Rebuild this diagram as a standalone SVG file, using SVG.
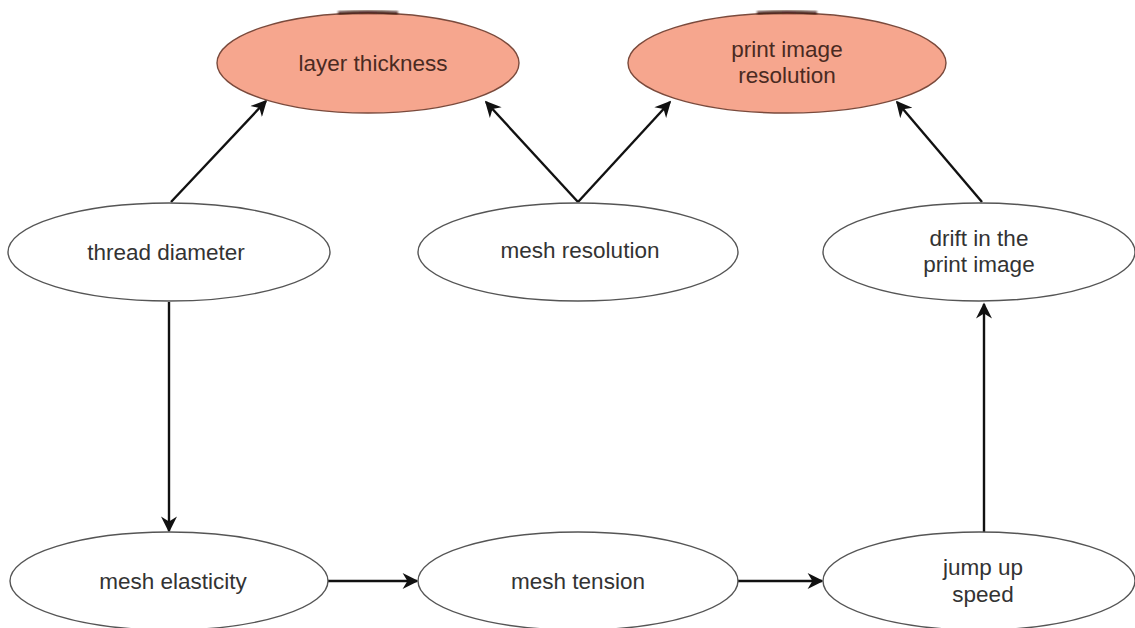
<svg xmlns="http://www.w3.org/2000/svg" width="1135" height="628" viewBox="0 0 1135 628">
  <defs>
    <marker id="arrow" viewBox="0 0 10 10" refX="9" refY="5" markerWidth="18" markerHeight="16" markerUnits="userSpaceOnUse" orient="auto">
      <path d="M0,0 L10,5 L0,10 L3,5 Z" fill="#111"/>
    </marker>
    <filter id="soft" x="-20%" y="-200%" width="140%" height="500%">
      <feGaussianBlur stdDeviation="1.2"/>
    </filter>
  </defs>
  <style>
    .node { fill: #ffffff; stroke: #555555; stroke-width: 1.4; }
    .hot { fill: #F6A68E; stroke: #7a4a3c; stroke-width: 1.4; }
    .label { font-family: "Liberation Sans", Arial, sans-serif; font-size: 22.5px; fill: #333333; text-anchor: middle; }
    .hot-label { fill: #4a2a22; }
    .edge { fill: none; stroke: #111111; stroke-width: 2.4; marker-end: url(#arrow); }
    .rim { fill: none; stroke: #3a1408; stroke-width: 3.5; opacity: 0.85; filter: url(#soft); }
  </style>
  <rect width="1135" height="628" fill="#ffffff"/>

  <!-- connectors -->
  <g id="connectors">
    <path class="edge" d="M171,202 L266,101"/>
    <path class="edge" d="M578,202 L486,102"/>
    <path class="edge" d="M578,202 L670,102"/>
    <path class="edge" d="M982,202 L897,102"/>
    <path class="edge" d="M169,302 L169,531"/>
    <path class="edge" d="M328,581 L417,581"/>
    <path class="edge" d="M737,581 L822,581"/>
    <path class="edge" d="M984,532 L984,304"/>
  </g>

  <g id="layer-thickness">
    <ellipse class="hot" cx="368" cy="63" rx="151" ry="50"/>
    <path class="rim" d="M338,13 Q368,11 398,13"/>
    <text class="label hot-label" x="373" y="71">layer thickness</text>
  </g>

  <g id="print-image-resolution">
    <ellipse class="hot" cx="787" cy="63" rx="159" ry="50"/>
    <path class="rim" d="M757,13 Q787,11 817,13"/>
    <text class="label hot-label" x="787" y="57">print image</text>
    <text class="label hot-label" x="787" y="83">resolution</text>
  </g>

  <g id="thread-diameter">
    <ellipse class="node" cx="169" cy="252" rx="161" ry="49"/>
    <text class="label" x="166" y="260">thread diameter</text>
  </g>

  <g id="mesh-resolution">
    <ellipse class="node" cx="578" cy="252" rx="160" ry="49"/>
    <text class="label" x="580" y="258">mesh resolution</text>
  </g>

  <g id="drift-in-the-print-image">
    <ellipse class="node" cx="979" cy="252" rx="156" ry="49"/>
    <text class="label" x="979" y="246">drift in the</text>
    <text class="label" x="979" y="272">print image</text>
  </g>

  <g id="mesh-elasticity">
    <ellipse class="node" cx="169" cy="581" rx="159" ry="49"/>
    <text class="label" x="173" y="589">mesh elasticity</text>
  </g>

  <g id="mesh-tension">
    <ellipse class="node" cx="578" cy="581" rx="160" ry="49"/>
    <text class="label" x="578" y="589">mesh tension</text>
  </g>

  <g id="jump-up-speed">
    <ellipse class="node" cx="979" cy="581" rx="156" ry="49"/>
    <text class="label" x="983" y="575">jump up</text>
    <text class="label" x="983" y="602">speed</text>
  </g>
</svg>
